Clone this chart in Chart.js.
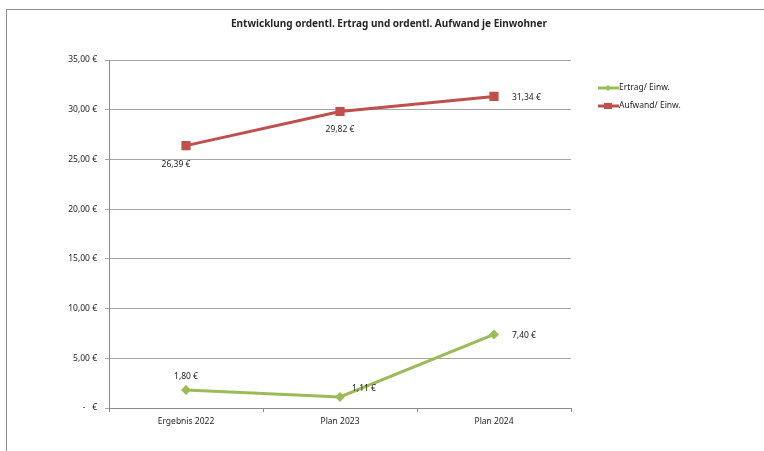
<!DOCTYPE html>
<html>
<head>
<meta charset="utf-8">
<script src="https://cdn.jsdelivr.net/npm/chart.js@4/dist/chart.umd.min.js"></script>
<style>
    html, body { margin: 0; padding: 0; background: #ffffff; }
    canvas { display: block; }
</style>
</head>
<body>
<canvas id="entwicklungChart" width="764" height="451"></canvas>
<script>
var chartTitle = 'Entwicklung ordentl. Ertrag und ordentl. Aufwand je Einwohner'
var categoryLabels = ['Ergebnis 2022', 'Plan 2023', 'Plan 2024']
var ertragValues = [1.80, 1.11, 7.40]
var aufwandValues = [26.39, 29.82, 31.34]
var seriesNames = ['Ertrag/ Einw.', 'Aufwand/ Einw.']

var fontFamily = "'Noto Sans', 'Open Sans', sans-serif"
var textColor = '#262626'

function formatEuro(value) {
    if (value === 0) {
        return '-   €'
    }
    return value.toFixed(2).replace('.', ',') + ' €'
}

// where each value label sits relative to its point
var ertragLabelPlacement = ['above', 'right', 'right']
var aufwandLabelPlacement = ['belowLeft', 'below', 'right']

var chartDecorationPlugin = {
    id: 'chartDecoration',
    beforeDraw: function (chart) {
        var ctx = chart.ctx
        ctx.save()
        ctx.fillStyle = '#ffffff'
        ctx.fillRect(0, 0, chart.width, chart.height)
        ctx.strokeStyle = '#8c8c8c'
        ctx.lineWidth = 1
        ctx.beginPath()
        ctx.moveTo(6.5, chart.height)
        ctx.lineTo(6.5, 9.5)
        ctx.lineTo(chart.width, 9.5)
        ctx.stroke()
        ctx.restore()
    },
    afterDraw: function (chart) {
        var ctx = chart.ctx
        ctx.save()
        ctx.fillStyle = textColor
        ctx.font = 'bold 10px ' + fontFamily
        ctx.textAlign = 'center'
        ctx.textBaseline = 'middle'
        ctx.fillText(chartTitle, 389, 24)

        // value labels
        ctx.font = '8.5px ' + fontFamily
        chart.data.datasets.forEach(function (dataset, datasetIndex) {
            var meta = chart.getDatasetMeta(datasetIndex)
            var placement = dataset.labelPlacement
            meta.data.forEach(function (point, index) {
                var text = formatEuro(dataset.data[index])
                var x = point.x
                var y = point.y
                var where = placement[index]
                if (where === 'above') {
                    ctx.textAlign = 'center'
                    ctx.fillText(text, x, y - 14)
                } else if (where === 'below') {
                    ctx.textAlign = 'center'
                    ctx.fillText(text, x, y + 18)
                } else if (where === 'belowLeft') {
                    ctx.textAlign = 'center'
                    ctx.fillText(text, x - 10, y + 19)
                } else {
                    ctx.textAlign = 'left'
                    ctx.fillText(text, x + (index === 1 ? 12 : 18), y + (index === 1 ? -8 : 1))
                }
            })
        })

        // legend
        var legendX = 598
        var legendY = [88, 106]
        chart.data.datasets.forEach(function (dataset, datasetIndex) {
            var y = legendY[datasetIndex]
            ctx.strokeStyle = dataset.borderColor
            ctx.lineWidth = 3
            ctx.beginPath()
            ctx.moveTo(legendX, y)
            ctx.lineTo(legendX + 21, y)
            ctx.stroke()
            ctx.fillStyle = dataset.borderColor
            if (dataset.pointStyle === 'rect') {
                ctx.fillRect(legendX + 6, y - 3, 8, 6)
            } else {
                ctx.beginPath()
                ctx.moveTo(legendX + 10, y - 3)
                ctx.lineTo(legendX + 13, y)
                ctx.lineTo(legendX + 10, y + 3)
                ctx.lineTo(legendX + 7, y)
                ctx.closePath()
                ctx.fill()
            }
            ctx.fillStyle = textColor
            ctx.textAlign = 'left'
            ctx.fillText(seriesNames[datasetIndex], legendX + 21, y)
        })
        ctx.restore()
    }
}

var entwicklungChartCanvas = document.getElementById('entwicklungChart').getContext('2d')

var entwicklungChartData = {
    labels: categoryLabels,
    datasets: [
        {
            label: seriesNames[0],
            data: ertragValues,
            borderColor: '#9bbb59',
            backgroundColor: '#9bbb59',
            borderWidth: 3,
            pointStyle: 'rectRot',
            pointRadius: 5,
            pointHoverRadius: 5,
            pointBorderWidth: 0,
            labelPlacement: ertragLabelPlacement
        },
        {
            label: seriesNames[1],
            data: aufwandValues,
            borderColor: '#c0504d',
            backgroundColor: '#c0504d',
            borderWidth: 3,
            pointStyle: 'rect',
            pointRadius: 6.5,
            pointHoverRadius: 6.5,
            pointBorderWidth: 0,
            labelPlacement: aufwandLabelPlacement
        }
    ]
}

var entwicklungChartOptions = {
    responsive: false,
    animation: false,
    layout: {
        padding: { top: 60, right: 193, bottom: 0, left: 0 }
    },
    plugins: {
        legend: { display: false },
        title: { display: false },
        tooltip: { enabled: false }
    },
    scales: {
        x: {
            offset: true,
            afterFit: function (scale) { scale.height = 43 },
            grid: {
                offset: true,
                drawOnChartArea: false,
                drawTicks: true,
                tickLength: 4,
                color: '#8c8c8c'
            },
            border: { color: '#8c8c8c', width: 1 },
            ticks: {
                color: textColor,
                font: { family: fontFamily, size: 8.5 },
                padding: 4,
                maxRotation: 0
            }
        },
        y: {
            min: 0,
            max: 35,
            afterFit: function (scale) { scale.width = 109 },
            grid: {
                color: '#a6a6a6',
                tickLength: 4
            },
            border: { color: '#8c8c8c', width: 1 },
            ticks: {
                stepSize: 5,
                color: textColor,
                font: { family: fontFamily, size: 8.5 },
                padding: 8,
                callback: function (value) { return formatEuro(value) }
            }
        }
    }
}

// eslint-disable-next-line no-unused-vars
var entwicklungChart = new Chart(entwicklungChartCanvas, {
    type: 'line',
    data: entwicklungChartData,
    options: entwicklungChartOptions,
    plugins: [chartDecorationPlugin]
})
</script>
</body>
</html>
